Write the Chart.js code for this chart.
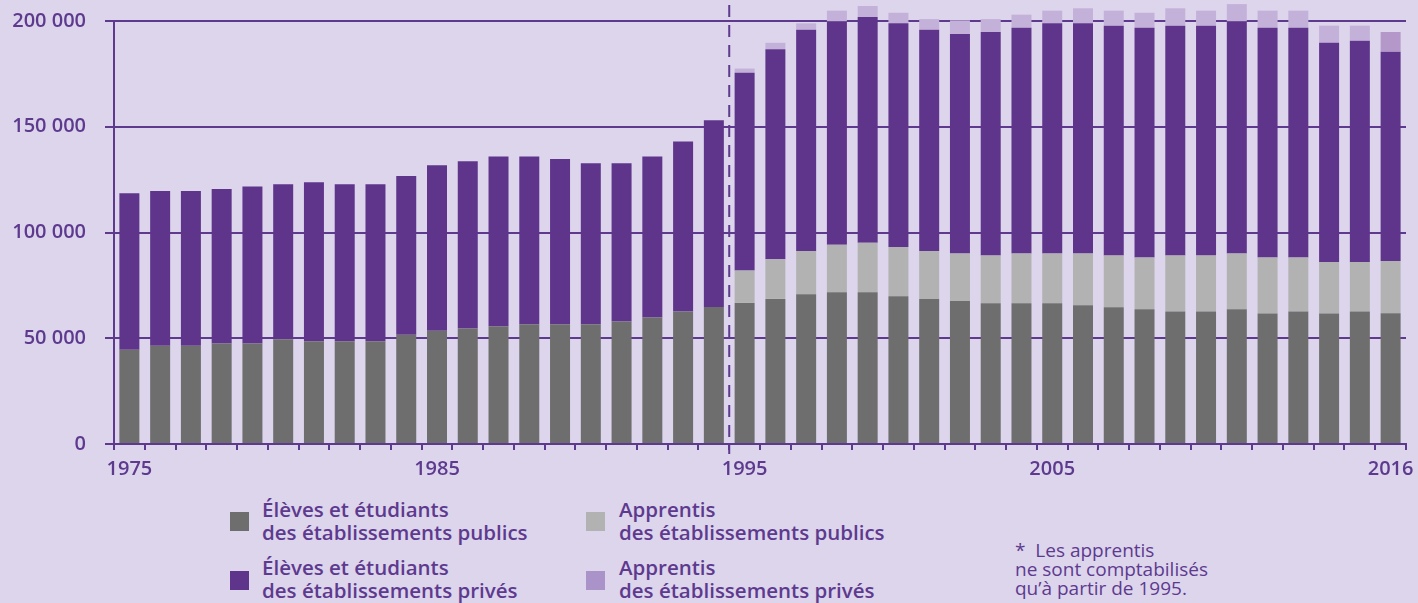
<!DOCTYPE html>
<html lang="fr">
<head>
<meta charset="utf-8">
<script src="https://cdn.jsdelivr.net/npm/chart.js@4.4.1/dist/chart.umd.min.js"></script>
<style>
  html, body { margin: 0; padding: 0; background: #dcd5ec; }
  body { width: 1418px; height: 603px; position: relative; overflow: hidden; font-family: "Open Sans", sans-serif; color: #5e3a8f; }
  #chart { position: absolute; left: 0; top: 0; }
  .item { position: absolute; font-size: 20.5px; font-weight: 600; line-height: 23px; white-space: nowrap; }
  .sw { position: absolute; width: 19px; height: 19px; }
  .note { position: absolute; left: 1015px; top: 541px; font-size: 19px; line-height: 19px; white-space: nowrap; }
</style>
</head>
<body>
<canvas id="chart" width="1418" height="490"></canvas>

<div class="sw" style="left:230px; top:512px; background:#6e6e6e"></div>
<div class="item" style="left:262px; top:498px">Élèves et étudiants<br>des établissements publics</div>
<div class="sw" style="left:230px; top:571px; background:#5f358b"></div>
<div class="item" style="left:262px; top:556px">Élèves et étudiants<br>des établissements privés</div>

<div class="sw" style="left:586px; top:512px; background:#b2b2b2"></div>
<div class="item" style="left:619px; top:498px">Apprentis<br>des établissements publics</div>
<div class="sw" style="left:586px; top:571px; background:#a993c8"></div>
<div class="item" style="left:619px; top:556px">Apprentis<br>des établissements privés</div>

<div class="note">*&nbsp; Les apprentis<br>ne sont comptabilisés<br>qu’à partir de 1995.</div>

<script>
const years = ['1975','1976','1977','1978','1979','1980','1981','1982','1983','1984',
  '1985','1986','1987','1988','1989','1990','1991','1992','1993','1994',
  '1995','1996','1997','1998','1999','2000','2001','2002','2003','2004',
  '2005','2006','2007','2008','2009','2010','2011','2012','2013','2014','2015','2016'];

const publicStudents = [44600, 46500, 46500, 47500, 47500, 49500, 48600, 48600, 48600, 51700,
  53600, 54600, 55700, 56600, 56600, 56600, 57900, 59800, 62600, 64800,
  66700, 68600, 70800, 71800, 71800, 69900, 68600, 67600, 66600, 66600,
  66600, 65600, 64700, 63700, 62600, 62600, 63700, 61700, 62600, 61700, 62600, 61800];

const publicApprentices = [null, null, null, null, null, null, null, null, null, null,
  null, null, null, null, null, null, null, null, null, null,
  15300, 18700, 20400, 22400, 23300, 23300, 22600, 22500, 22500, 23500,
  23500, 24500, 24400, 24500, 26500, 26500, 26400, 26500, 25600, 24400, 23500, 24700];

const privateStudents = [73900, 73100, 73100, 73100, 74200, 73300, 75100, 74200, 74200, 75000,
  78200, 79100, 80200, 79300, 78200, 76100, 74800, 76100, 80400, 88300,
  93500, 99400, 104700, 105600, 106800, 105700, 104700, 103700, 105700, 106700,
  108800, 108800, 108700, 108600, 108700, 108700, 109700, 108600, 108600, 103600, 104600, 99000];

const privateApprentices = [null, null, null, null, null, null, null, null, null, null,
  null, null, null, null, null, null, null, null, null, null,
  2000, 3000, 3000, 5100, 5200, 5000, 5000, 6500, 6100, 6200,
  6000, 7100, 7100, 7100, 8200, 7100, 8200, 8100, 8100, 8100, 7100, 9300];

const shownYears = ['1975', '1985', '1995', '2005', '2016'];
const yTicks = [0, 50000, 100000, 150000, 200000];
const markerYear = '1995';

const PURPLE = '#5e3a8f';
const FONT = { family: 'Open Sans', size: 20, weight: '600' };

function fmt(v) {
  return String(v).replace(/\B(?=(\d{3})+(?!\d))/g, ' ');
}

// vertical dashed line just before 1995
const dashLine = {
  id: 'dashLine',
  afterDatasetsDraw(chart) {
    const x = chart.scales.x;
    const i = years.indexOf(markerYear);
    const px = (x.getPixelForValue(i - 1) + x.getPixelForValue(i)) / 2;
    const ctx = chart.ctx;
    ctx.save();
    ctx.strokeStyle = PURPLE;
    ctx.lineWidth = 2;
    ctx.setLineDash([12, 8]);
    ctx.beginPath();
    ctx.moveTo(px, chart.chartArea.top - 16);
    ctx.lineTo(px, chart.chartArea.bottom + 10);
    ctx.stroke();
    ctx.restore();
  }
};

const common = { barPercentage: 0.65, categoryPercentage: 1, clip: false, borderWidth: 0 };

new Chart(document.getElementById('chart'), {
  type: 'bar',
  data: {
    labels: years,
    datasets: [
      { label: 'Élèves et étudiants des établissements publics', data: publicStudents, backgroundColor: '#6e6e6e', ...common },
      { label: 'Apprentis des établissements publics', data: publicApprentices, backgroundColor: '#b2b2b2', ...common },
      { label: 'Élèves et étudiants des établissements privés', data: privateStudents, backgroundColor: '#5f358b', ...common },
      { label: 'Apprentis des établissements privés', data: privateApprentices,
        backgroundColor: years.map(y => y === '2016' ? '#b398c9' : '#c4b1d9'), ...common }
    ]
  },
  options: {
    responsive: false,
    animation: false,
    devicePixelRatio: 1,
    layout: { padding: { top: 21, right: 12 } },
    plugins: { legend: { display: false }, tooltip: { enabled: false } },
    scales: {
      x: {
        stacked: true,
        offset: true,
        grid: { offset: true, drawOnChartArea: false, drawTicks: true, tickLength: 6, color: PURPLE, lineWidth: 2 },
        border: { display: true, color: PURPLE, width: 2 },
        ticks: {
          autoSkip: false, maxRotation: 0, padding: 7,
          color: PURPLE, font: FONT,
          callback: (v, i) => shownYears.includes(years[i]) ? years[i] : ''
        },
        afterFit: s => { s.height = 46; s.paddingLeft = 0; s.paddingRight = 0; }
      },
      y: {
        stacked: true,
        min: 0,
        max: 200000,
        afterBuildTicks: s => { s.ticks = yTicks.map(v => ({ value: v })); },
        grid: { color: PURPLE, lineWidth: 2, tickLength: 9, drawTicks: true },
        border: { display: true, color: PURPLE, width: 2 },
        ticks: {
          padding: 19, color: PURPLE, font: FONT,
          callback: v => fmt(v)
        },
        afterFit: s => { s.width = 114; s.paddingTop = 0; s.paddingBottom = 0; }
      }
    }
  },
  plugins: [dashLine]
});
</script>
</body>
</html>
